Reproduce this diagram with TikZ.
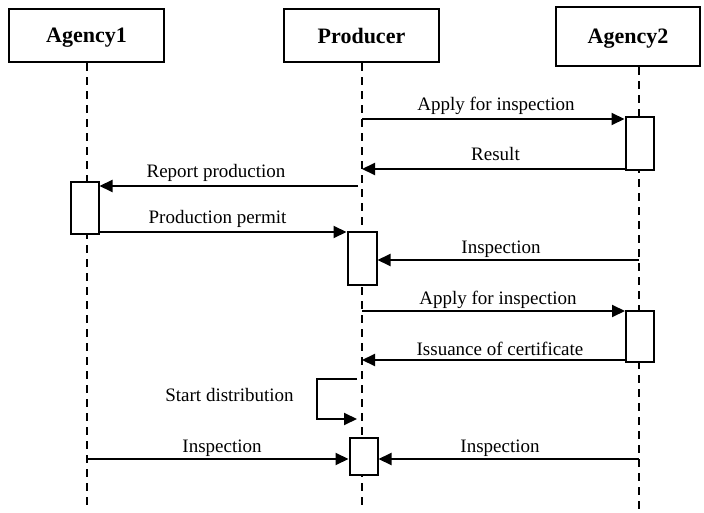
\documentclass[tikz,border=0pt]{standalone}
\usepackage{fontspec}
\setmainfont{Liberation Serif}
\usetikzlibrary{arrows.meta}
\begin{document}
\begin{tikzpicture}[x=1pt,y=-1pt,
  actor/.style={draw,line width=2.8pt,fill=white,inner sep=0,text depth=0pt,
    font=\fontsize{22}{26}\selectfont\bfseries},
  life/.style={line width=1.9pt,dash pattern=on 8pt off 6pt},
  act/.style={draw,line width=2pt,fill=white,inner sep=0,minimum width=28pt},
  msg/.style={line width=2pt,-{Triangle[length=13pt,width=12pt]}},
  lbl/.style={inner sep=0,anchor=base,font=\fontsize{19}{22}\selectfont}]
\useasboundingbox (0,0) rectangle (704,513);

% participants
\node[actor,minimum width=155pt,minimum height=53pt] (ag1) at (86.5,35.5) {Agency1};
\node[actor,minimum width=155pt,minimum height=53pt] (prod) at (361.5,35.5) {Producer};
\node[actor,minimum width=144pt,minimum height=59pt] (ag2) at (628,36.5) {Agency2};

% lifelines
\coordinate (e1) at (87,510);
\coordinate (e2) at (362,510);
\coordinate (e3) at (639,510);
\draw[life] (ag1.south -| e1) -- (e1);
\draw[life] (prod.south -| e2) -- (e2);
\draw[life] (ag2.south -| e3) -- (e3);

% activation bars
\node[act,minimum height=52pt] (a1act) at (84.5,208.5) {};
\node[act,minimum height=53pt] (a2a1) at (639.5,144) {};
\node[act,minimum height=51pt] (a2a2) at (640,336) {};
\node[act,minimum width=29pt,minimum height=52pt] (pa1) at (362,258.5) {};
\node[act,minimum height=37pt] (pa2) at (363.5,456) {};

% messages
\coordinate (s1) at (362,119);
\draw[msg] (s1) -- (s1 -| a2a1.west);
\node[lbl] (l1) at (496,111) {Apply for inspection};

\coordinate (s2) at (362,169);
\draw[msg] (s2 -| a2a1.west) -- (s2);
\node[lbl] (l2) at (495.5,161) {Result};

\coordinate (s3) at (358,186);
\draw[msg] (s3) -- (s3 -| a1act.east);
\node[lbl] (l3) at (216,178) {Report production};

\coordinate (s4) at (347,232);
\draw[msg] (s4 -| a1act.east) -- (s4 -| pa1.west);
\node[lbl] (l4) at (217.5,223) {Production permit};

\coordinate (s5) at (639,260);
\draw[msg] (s5) -- (s5 -| pa1.east);
\node[lbl] (l5) at (501,253) {Inspection};

\coordinate (s6) at (362,311);
\draw[msg] (s6) -- (s6 -| a2a2.west);
\node[lbl] (l6) at (498,304) {Apply for inspection};

\coordinate (s7) at (362,360);
\draw[msg] (s7 -| a2a2.west) -- (s7);
\node[lbl] (l7) at (500,355) {Issuance of certificate};

% self call
\coordinate (u1) at (357,379);
\coordinate (u2) at (317,379);
\coordinate (u3) at (317,419);
\coordinate (u4) at (357,419);
\draw[msg] (u1) -- (u2) -- (u3) -- (u4);
\node[lbl] (l8) at (229.5,401) {Start distribution};

\coordinate (s9) at (87,459);
\draw[msg] (s9) -- (s9 -| pa2.west);
\node[lbl] (l9) at (222,452) {Inspection};

\coordinate (s10) at (639,459);
\draw[msg] (s10) -- (s10 -| pa2.east);
\node[lbl] (l10) at (500,452) {Inspection};
\end{tikzpicture}
\end{document}
